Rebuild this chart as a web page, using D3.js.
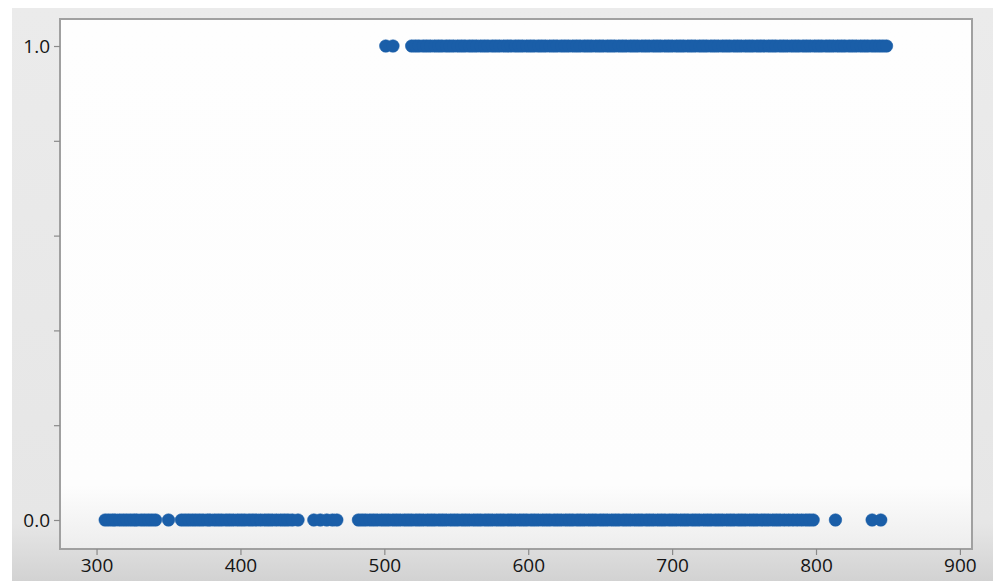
<!DOCTYPE html>
<html>
<head>
<meta charset="utf-8">
<script src="https://cdn.jsdelivr.net/npm/d3@7"></script>
<style>
  html, body { margin: 0; padding: 0; background: #ffffff; }
  svg { display: block; }
  .tick text { font-family: "Open Sans", "Noto Sans", sans-serif; fill: #151515; }
</style>
</head>
<body>
<svg id="chart" width="993" height="581"></svg>
<script>
// ---- data ----
const xTicks = [300, 400, 500, 600, 700, 800, 900];
const yTicks = [0, 0.2, 0.4, 0.6, 0.8, 1.0];
const yTickLabels = ["0.0", "", "", "", "", "1.0"];

// x values of observations with outcome 0
const x0 = [
  306, 308.5, 311, 313, 316, 318.5, 321, 323.5, 326, 328, 331, 333.5, 336, 338.5, 341,
  350,
  359, 361.5, 364, 366.5, 369, 371.5, 374, 377, 379, 382, 384.5, 387, 390, 392.5, 395, 398,
  400.5, 403, 406, 408.5, 411, 414, 417, 419.5, 422, 425, 428, 430.5, 433, 436, 440,
  451, 455.5, 460, 464, 467,
  482, 484.5, 487, 490, 492.5, 495, 498, 500.5, 503, 506, 508.5, 511, 514, 516.5, 519, 522,
  524.5, 527, 530, 532.5, 535, 538, 540.5, 543, 546, 548.5, 551, 554, 556.5, 559, 562, 564.5,
  567, 570, 572.5, 575, 578, 580.5, 583, 586, 588.5, 591, 594, 596.5, 599, 602, 604.5, 607,
  610, 612.5, 615, 618, 620.5, 623, 626, 628.5, 631, 634, 636.5, 639, 642, 644.5, 647, 650,
  652.5, 655, 658, 660.5, 663, 666, 668.5, 671, 674, 676.5, 679, 682, 684.5, 687, 690, 692.5,
  695, 698, 700.5, 703, 706, 708.5, 711, 714, 716.5, 719, 722, 724.5, 727, 730, 732.5, 735,
  738, 740.5, 743, 746, 748.5, 751, 754, 756.5, 759, 762, 764.5, 767, 770, 772.5, 775, 778,
  781, 784, 787, 790, 793, 795.5, 798,
  813.5, 839, 845
];

// x values of observations with outcome 1
const x1 = [
  501, 506,
  519, 521.5, 524, 527, 529.5, 532, 535, 537.5, 540, 543, 545.5, 548, 551, 553.5, 556, 559,
  561.5, 564, 567, 569.5, 572, 575, 577.5, 580, 583, 585.5, 588, 591, 593.5, 596, 599, 601.5,
  604, 607, 609.5, 612, 615, 617.5, 620, 623, 625.5, 628, 631, 633.5, 636, 639, 641.5, 644,
  647, 649.5, 652, 655, 657.5, 660, 663, 665.5, 668, 671, 673.5, 676, 679, 681.5, 684, 687,
  689.5, 692, 695, 697.5, 700, 703, 705.5, 708, 711, 713.5, 716, 719, 721.5, 724, 727, 729.5,
  732, 735, 737.5, 740, 743, 745.5, 748, 751, 753.5, 756, 759, 761.5, 764, 767, 769.5, 772,
  775, 777.5, 780, 783, 785.5, 788, 791, 793.5, 796, 799, 801.5, 804, 807, 809.5, 812, 815,
  817.5, 820, 823, 825.5, 828, 831, 833.5, 836, 839, 841.5, 844, 846.5, 849
];

// ---- layout ----
const W = 993, H = 581;
const plot = { left: 60, top: 19, right: 972, bottom: 549 };

const svg = d3.select("#chart");

const defs = svg.append("defs");
const bgGrad = defs.append("linearGradient").attr("id", "bgGrad")
  .attr("x1", 0).attr("y1", 0).attr("x2", 0).attr("y2", 1);
bgGrad.append("stop").attr("offset", "0%").attr("stop-color", "#ebebeb");
bgGrad.append("stop").attr("offset", "90%").attr("stop-color", "#e6e6e6");
bgGrad.append("stop").attr("offset", "100%").attr("stop-color", "#d2d2d2");

const plotGrad = defs.append("linearGradient").attr("id", "plotGrad")
  .attr("x1", 0).attr("y1", 0).attr("x2", 0).attr("y2", 1);
plotGrad.append("stop").attr("offset", "0%").attr("stop-color", "#fefefe");
plotGrad.append("stop").attr("offset", "88%").attr("stop-color", "#fdfdfd");
plotGrad.append("stop").attr("offset", "100%").attr("stop-color", "#ededed");

svg.append("rect").attr("x", 0).attr("y", 0).attr("width", W).attr("height", H).attr("fill", "#ffffff");
svg.append("rect").attr("x", 12).attr("y", 8).attr("width", W - 12).attr("height", H - 8)
  .attr("fill", "url(#bgGrad)");

const x = d3.scaleLinear().domain([274.6, 908.4]).range([plot.left, plot.right]);
const y = d3.scaleLinear().domain([-0.0612, 1.057]).range([plot.bottom, plot.top]);

svg.append("rect")
  .attr("x", plot.left).attr("y", plot.top)
  .attr("width", plot.right - plot.left).attr("height", plot.bottom - plot.top)
  .attr("fill", "url(#plotGrad)")
  .attr("stroke", "#a0a0a0").attr("stroke-width", 2);

// axes
const xAxis = d3.axisBottom(x).tickValues(xTicks).tickFormat(d3.format("d")).tickSize(6).tickPadding(4);
const gx = svg.append("g").attr("transform", `translate(0,${plot.bottom})`).call(xAxis);
gx.select(".domain").remove();
gx.selectAll(".tick line").attr("stroke", "#8a8a8a").attr("stroke-width", 1.2);
gx.selectAll(".tick text").attr("font-size", 19);

const yAxis = d3.axisLeft(y).tickValues(yTicks).tickFormat((d, i) => yTickLabels[i]).tickSize(6).tickPadding(4);
const gy = svg.append("g").attr("transform", `translate(${plot.left},0)`).call(yAxis);
gy.select(".domain").remove();
gy.selectAll(".tick line").attr("stroke", "#8a8a8a").attr("stroke-width", 1.2);
gy.selectAll(".tick text").attr("font-size", 19);

// points
const pts = x0.map(v => ({ x: v, y: 0 })).concat(x1.map(v => ({ x: v, y: 1 })));
svg.append("g").selectAll("circle").data(pts).join("circle")
  .attr("cx", d => x(d.x))
  .attr("cy", d => y(d.y))
  .attr("r", 6.3)
  .attr("fill", "#1a5ea8")
  .attr("stroke", "#1a5ea8")
  .attr("stroke-width", 0.5);
</script>
</body>
</html>
